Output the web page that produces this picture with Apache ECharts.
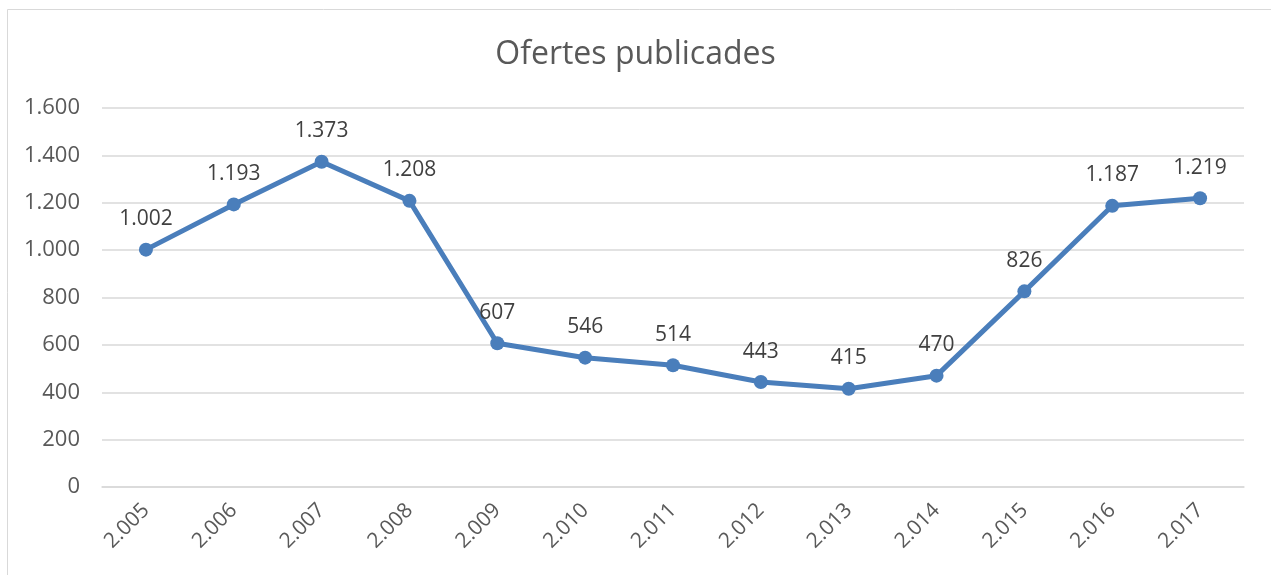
<!DOCTYPE html>
<html>
<head>
<meta charset="utf-8">
<script src="https://cdn.jsdelivr.net/npm/echarts@6/dist/echarts.min.js"></script>
<style>
html,body{margin:0;padding:0;background:#fff;}
#chart{width:1271px;height:575px;}
</style>
</head>
<body>
<div id="chart"></div>
<script>
var categories = ['2005','2006','2007','2008','2009','2010','2011','2012','2013','2014','2015','2016','2017'];
var values = [1002,1193,1373,1208,607,546,514,443,415,470,826,1187,1219];
var titleText = 'Ofertes publicades';

function fmt(v){
  var s = String(Math.round(v));
  return s.replace(/\B(?=(\d{3})+(?!\d))/g, '.');
}

var chart = echarts.init(document.getElementById('chart'));
chart.setOption({
  animation: false,
  backgroundColor: '#fff',
  graphic: [{
    type: 'rect',
    shape: {x: 7.5, y: 9.5, width: 1400, height: 700},
    style: {fill: 'none', stroke: '#D9D9D9', lineWidth: 1},
    silent: true
  }],
  title: {
    text: titleText,
    left: 'center',
    top: 34,
    textStyle: {fontFamily: 'Open Sans', fontSize: 32, fontWeight: 'normal', color: '#595959'}
  },
  grid: {left: 102, right: 27, top: 108, bottom: 88, containLabel: false},
  xAxis: {
    type: 'category',
    data: categories,
    boundaryGap: true,
    axisLine: {show: true, lineStyle: {color: '#D9D9D9', width: 1.5}},
    axisTick: {show: false},
    axisLabel: {
      rotate: 45,
      margin: 20,
      interval: 0,
      fontFamily: 'Open Sans',
      fontSize: 21,
      color: '#595959',
      formatter: function(v){ return fmt(Number(v)); }
    }
  },
  yAxis: {
    type: 'value',
    min: 0,
    max: 1600,
    interval: 200,
    axisLine: {show: false},
    axisTick: {show: false},
    splitLine: {lineStyle: {color: '#D9D9D9', width: 1.5}},
    axisLabel: {
      margin: 22,
      fontFamily: 'Open Sans',
      fontSize: 22,
      color: '#595959',
      formatter: function(v){ return fmt(v); }
    }
  },
  series: [{
    type: 'line',
    data: values,
    symbol: 'circle',
    symbolSize: 14,
    lineStyle: {color: '#4A7EBB', width: 5},
    itemStyle: {color: '#4A7EBB'},
    label: {
      show: true,
      position: 'top',
      distance: 13,
      fontFamily: 'Open Sans',
      fontSize: 21,
      color: '#404040',
      formatter: function(p){ return fmt(p.value); }
    }
  }]
});
</script>
</body>
</html>
